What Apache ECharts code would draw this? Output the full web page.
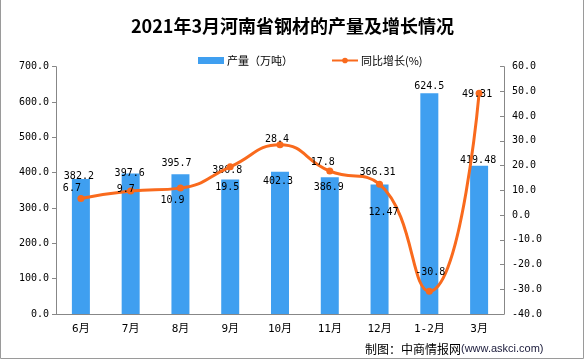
<!DOCTYPE html>
<html><head><meta charset="utf-8">
<script src="https://cdn.jsdelivr.net/npm/echarts@6/dist/echarts.min.js"></script>
<style>html,body{margin:0;padding:0;background:#fff}#c{width:585px;height:360px}</style>
</head><body><div id="c"></div>
<script>
const categories = ['6月','7月','8月','9月','10月','11月','12月','1-2月','3月'];
const output = [382.2, 397.6, 395.7, 380.8, 402.3, 386.9, 366.31, 624.5, 419.48];
const growth = [6.7, 9.7, 10.9, 19.5, 28.4, 17.8, 12.47, -30.8, 49.31];
const leftTicks = [0, 700, 100];
const rightTicks = [-40, 60, 10];

// label nudges (styling only)
const barLabelOffsets = [[-2,7],[-1,10],[-4,-1],[-3,1],[-2,20],[-1,20],[-2,-2],[0,3],[-1,5]];
const lineLabelOffsets = [[-9,3],[-5,12],[-8,26],[-3,34],[-3,8],[-7,5],[4,42],[1,-5],[-2,15]];

const numFont = 'DejaVu Sans Mono';
const axisColor = '#878787';
const barColor = '#3F9FF0';
const lineColor = '#F96A1D';

const chart = echarts.init(document.getElementById('c'), null, {renderer: 'canvas'});
chart.setOption({
  animation: false,
  backgroundColor: '#fff',
  title: {
    text: '2021年3月河南省钢材的产量及增长情况',
    left: 'center', top: 12,
    textStyle: {fontFamily: 'Noto Sans CJK SC', fontSize: 18, fontWeight: 'bold', color: '#000'}
  },
  legend: {
    left: 193, top: 50, itemWidth: 26, itemHeight: 7, itemGap: 38,
    textStyle: {fontFamily: 'Noto Sans CJK SC', fontSize: 11, color: '#000', padding: [0,0,0,-2]},
    data: [{name: '产量（万吨）', icon: 'rect'}, {name: '同比增长(%)'}]
  },
  grid: {left: 56, right: 81, top: 66.7, bottom: 46, containLabel: false},
  xAxis: {
    type: 'category', data: categories,
    axisLine: {lineStyle: {color: axisColor}},
    axisTick: {lineStyle: {color: axisColor}, length: 4},
    axisLabel: {fontFamily: numFont + ', Noto Sans CJK SC', fontSize: 11, color: '#000', margin: 10}
  },
  yAxis: [{
    type: 'value', min: leftTicks[0], max: leftTicks[1], interval: leftTicks[2],
    axisLine: {show: true, lineStyle: {color: axisColor}},
    axisTick: {show: true, length: 4, lineStyle: {color: axisColor}},
    splitLine: {show: false},
    axisLabel: {fontFamily: numFont, fontSize: 10, color: '#000', margin: 7, formatter: v => v.toFixed(1)}
  }, {
    type: 'value', position: 'right', min: rightTicks[0], max: rightTicks[1], interval: rightTicks[2],
    axisLine: {show: true, lineStyle: {color: axisColor}},
    axisTick: {show: true, inside: true, length: 4, lineStyle: {color: axisColor}},
    splitLine: {show: false},
    axisLabel: {fontFamily: numFont, fontSize: 10, color: '#000', margin: 8, formatter: v => v.toFixed(1)}
  }],
  series: [{
    name: '产量（万吨）', type: 'bar', barWidth: 18, yAxisIndex: 0,
    itemStyle: {color: barColor},
    data: output.map((v, i) => ({value: v, label: {offset: barLabelOffsets[i]}})),
    label: {show: true, position: 'top', distance: 5, fontFamily: numFont, fontSize: 10, color: '#000'}
  }, {
    name: '同比增长(%)', type: 'line', yAxisIndex: 1, smooth: 0.5,
    symbol: 'circle', symbolSize: 7, z: 5,
    lineStyle: {color: lineColor, width: 3},
    itemStyle: {color: lineColor},
    data: growth.map((v, i) => ({value: v, label: {offset: lineLabelOffsets[i]}})),
    label: {show: true, position: 'top', distance: 5, fontFamily: numFont, fontSize: 10, color: '#000'}
  }],
  graphic: [{
    type: 'polyline', silent: true,
    shape: {points: [[0.5, 0], [0.5, 358.5], [583.5, 358.5], [583.5, 0]]},
    style: {stroke: '#9a9a9a', fill: null, lineWidth: 1}
  }, {
    type: 'text', x: 365, y: 349, silent: true,
    style: {
      text: '{a|制图：中商情报网}{b|(www.askci.com)}',
      verticalAlign: 'middle',
      rich: {
        a: {fontFamily: 'Noto Sans CJK SC', fontSize: 12, fill: '#000', color: '#000'},
        b: {fontFamily: 'Liberation Sans', fontSize: 11, fill: '#1a1a3a', color: '#1a1a3a'}
      }
    }
  }]
});
</script></body></html>
